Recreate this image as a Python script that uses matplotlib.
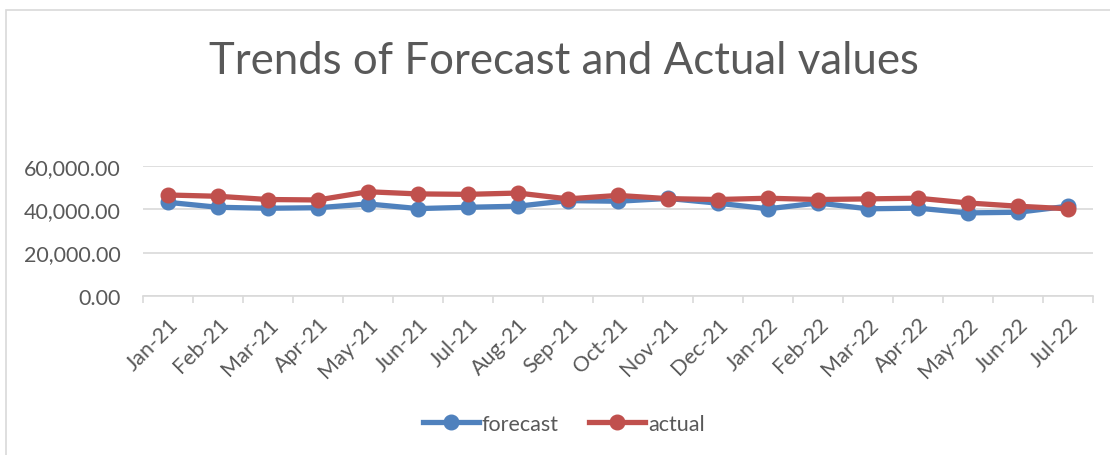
import matplotlib
matplotlib.use("Agg")
import matplotlib.pyplot as plt
from matplotlib.patches import Rectangle
from matplotlib.ticker import FuncFormatter, MultipleLocator

months = ["Jan-21", "Feb-21", "Mar-21", "Apr-21", "May-21", "Jun-21", "Jul-21",
          "Aug-21", "Sep-21", "Oct-21", "Nov-21", "Dec-21", "Jan-22", "Feb-22",
          "Mar-22", "Apr-22", "May-22", "Jun-22", "Jul-22"]
forecast = [43300, 41000, 40550, 40800, 42550, 40400, 41000, 41500, 44100,
            43800, 45100, 42900, 40300, 43000, 40300, 40600, 38400, 38700, 41500]
actual = [46700, 46100, 44600, 44400, 48200, 47200, 47000, 47600, 44900,
          46500, 45000, 44600, 45200, 44600, 44900, 45200, 43000, 41500, 40300]

blue = "#4F81BD"
red = "#C0504D"
grey_text = "#595959"
grid_col = "#D9D9D9"

plt.rcParams["font.family"] = ["Lato", "DejaVu Sans"]

fig = plt.figure(figsize=(11.1, 4.56), dpi=100)
ax = fig.add_axes([0.1288, 0.3493, 0.8559, 0.2838])

x = list(range(len(months)))
ax.plot(x, forecast, color=blue, lw=3.8, marker="o", ms=10.5, label="forecast")
ax.plot(x, actual, color=red, lw=3.8, marker="o", ms=10.5, label="actual")

ax.set_xlim(-0.5, len(months) - 0.5)
ax.set_ylim(0, 60000)
ax.yaxis.set_major_locator(MultipleLocator(20000))
ax.yaxis.set_major_formatter(FuncFormatter(lambda v, p: f"{v:,.2f}"))
ax.grid(axis="y", color=grid_col, lw=1.2)
ax.set_axisbelow(True)

for s in ["top", "right", "left"]:
    ax.spines[s].set_visible(False)
ax.spines["bottom"].set_color(grid_col)
ax.spines["bottom"].set_linewidth(1.2)

ax.set_xticks(x)
ax.set_xticklabels(months, rotation=45, ha="right", rotation_mode="anchor")
ax.set_xticks([i - 0.5 for i in range(len(months) + 1)], minor=True)
ax.tick_params(axis="x", which="major", length=0, pad=13, labelsize=15.5, colors=grey_text)
ax.tick_params(axis="x", which="minor", length=5, width=1.2, color=grid_col)
ax.tick_params(axis="y", length=0, pad=16, labelsize=15.5, colors=grey_text)

fig.text(0.5085, 0.865, "Trends of Forecast and Actual values", ha="center", va="center",
         fontsize=31.5, color=grey_text)

fig.legend(loc="center", bbox_to_anchor=(0.508, 0.068), ncol=2, frameon=False,
           fontsize=15.5, handlelength=2.6, columnspacing=1.4, handletextpad=0.15,
           labelcolor=grey_text)

fig.patches.append(Rectangle((6 / 1110, -0.1), 1.2, 1.1 - 10.5 / 456, transform=fig.transFigure,
                             fill=False, edgecolor=grid_col, lw=1.2))

fig.savefig("out.png", dpi=100)
